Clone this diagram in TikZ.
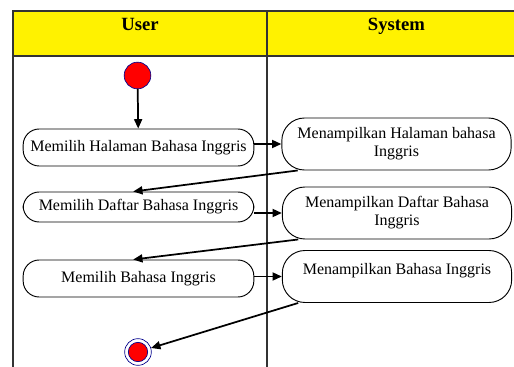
\documentclass[tikz,border=0pt]{standalone}
\usepackage{fontspec}
\setmainfont{Liberation Serif}
\usetikzlibrary{arrows.meta,calc}
\begin{document}
\begin{tikzpicture}[x=0.75pt,y=-0.75pt,
  grid/.style={draw=black!80, line width=0.8pt},
  act/.style={draw=black, line width=0.7pt, align=center, inner sep=2pt,
    font=\fontsize{12}{13.5}\selectfont},
  userbox/.style={act, minimum width=173pt, rounded corners=12pt},
  sysbox/.style={act, minimum width=172pt, minimum height=39pt, rounded corners=17pt},
  flow/.style={-{Triangle[length=7pt,width=6pt]}, line width=1.3pt},
  head/.style={font=\bfseries\fontsize{14}{16}\selectfont, anchor=base},
  dotline/.style={draw=blue!55!black, line width=0.5pt}
]
\useasboundingbox (0,0) rectangle (514,367);
\clip (0,0) rectangle (514,367);
\fill[white] (0,0) rectangle (514,367);
\fill[yellow] (13,11) rectangle (530,56);
\draw[grid] (13,380) -- (13,11) -- (530,11);
\draw[grid] (13,56) -- (530,56);
\draw[grid] (267,11) -- (267,380);
\node[head] (hu) at (140,30.5) {User};
\node[head] (hs) at (396.5,30.5) {System};

\node[circle, fill=red, dotline, minimum size=20pt, inner sep=0pt] (start) at (137.5,75.5) {};

\node[userbox, minimum height=27.75pt] (n1) at (138.5,147.5) {Memilih Halaman Bahasa Inggris};
\node[userbox, minimum height=22.5pt] (n2) at (138.5,207) {Memilih Daftar Bahasa Inggris};
\node[userbox, minimum height=27.75pt] (n3) at (138.5,278.5) {Memilih Bahasa Inggris};

\node[sysbox] (s1) at (396.5,144) {Menampilkan Halaman bahasa\\Inggris};
\node[sysbox] (s2) at (397,213) {Menampilkan Daftar Bahasa\\Inggris};
\node[sysbox, text depth=12pt] (s3) at (397,276.5) {Menampilkan Bahasa Inggris};

\node[circle, dotline, fill=white, minimum size=20pt, inner sep=0pt] (end) at (138,352) {};
\node[circle, dotline, fill=red, minimum size=14.5pt, inner sep=0pt] (endin) at (end) {};

\draw[flow] (start) -- (n1);
\draw[flow] (s1.west -| n1.east) -- (s1.west);
\draw[flow] (s1.195) -- ([xshift=-4pt]n2.north);
\draw[flow] (s2.west -| n2.east) -- (s2.west);
\draw[flow] (s2.195) -- ([xshift=-4pt]n3.north);
\draw[flow] (s3.west -| n3.east) -- (s3.west);
\draw[flow] (s3.195) -- (end);
\end{tikzpicture}
\end{document}
